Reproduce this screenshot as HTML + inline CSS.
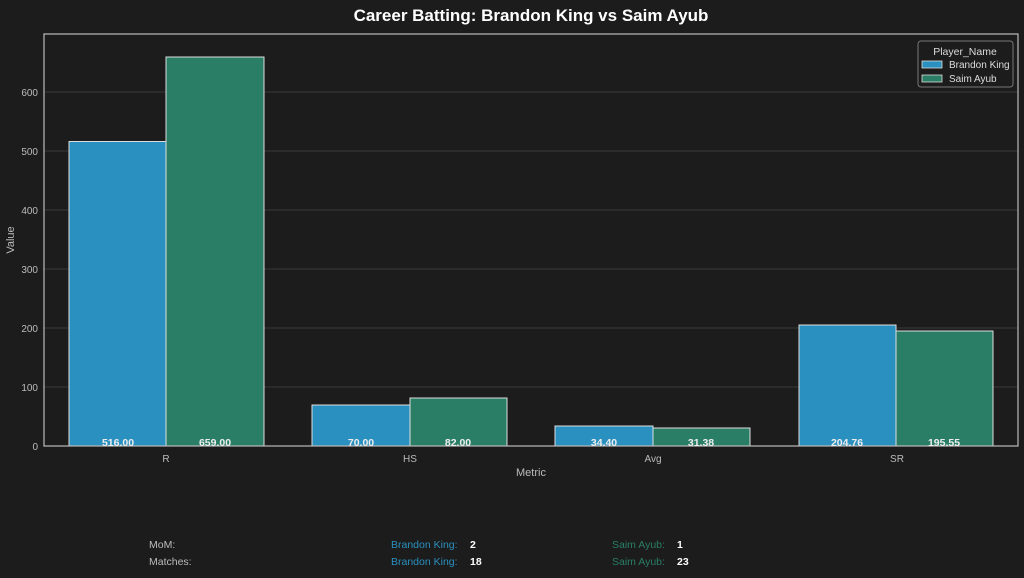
<!DOCTYPE html>
<html><head><meta charset="utf-8"><style>
html,body{margin:0;padding:0;background:#1c1c1c;}
svg text{font-family:"Liberation Sans",sans-serif;}
</style></head><body>
<svg width="1024" height="573" viewBox="0 0 1024 573" xmlns="http://www.w3.org/2000/svg">
<rect width="1024" height="573" fill="#1c1c1c"/>
<text x="531" y="21" fill="#fff" font-size="17" font-weight="bold" text-anchor="middle">Career Batting: Brandon King vs Saim Ayub</text>
<g stroke="#3a3a3a" stroke-width="1">
<line x1="44" y1="387" x2="1018" y2="387"/><line x1="44" y1="328" x2="1018" y2="328"/>
<line x1="44" y1="269" x2="1018" y2="269"/><line x1="44" y1="210" x2="1018" y2="210"/>
<line x1="44" y1="151" x2="1018" y2="151"/><line x1="44" y1="92" x2="1018" y2="92"/>
</g>
<g fill="#bbb" font-size="10" text-anchor="end">
<text x="38" y="450">0</text><text x="38" y="391">100</text><text x="38" y="332">200</text>
<text x="38" y="273">300</text><text x="38" y="214">400</text><text x="38" y="155">500</text><text x="38" y="96">600</text>
</g>
<g stroke="#ddd" stroke-width="1">
<rect x="69" y="141.5" width="97" height="304.5" fill="#2a90bf"/>
<rect x="166" y="57" width="98" height="389" fill="#2a7e66"/>
<rect x="312" y="405" width="98" height="41" fill="#2a90bf"/>
<rect x="410" y="398" width="97" height="48" fill="#2a7e66"/>
<rect x="555" y="426" width="98" height="20" fill="#2a90bf"/>
<rect x="653" y="428" width="97" height="18" fill="#2a7e66"/>
<rect x="799" y="325" width="97" height="121" fill="#2a90bf"/>
<rect x="896" y="331" width="97" height="115" fill="#2a7e66"/>
</g>
<rect x="44" y="34" width="974" height="412" fill="none" stroke="#bbb" stroke-width="1.2"/>
<g fill="#eee" font-size="10.5" font-weight="bold" text-anchor="middle">
<text x="118" y="446">516.00</text><text x="215" y="446">659.00</text>
<text x="361" y="446">70.00</text><text x="458" y="446">82.00</text>
<text x="604" y="446">34.40</text><text x="701" y="446">31.38</text>
<text x="847" y="446">204.76</text><text x="944" y="446">195.55</text>
</g>
<g fill="#bbb" font-size="10" text-anchor="middle">
<text x="166" y="462">R</text><text x="410" y="462">HS</text><text x="653" y="462">Avg</text><text x="897" y="462">SR</text>
<text x="531" y="476" font-size="11">Metric</text>
</g>
<text x="14" y="240" fill="#bbb" font-size="11" text-anchor="middle" transform="rotate(-90 14 240)">Value</text>
<rect x="918" y="41" width="95" height="46" rx="3" fill="#1c1c1c" stroke="#777"/>
<text x="965" y="55" fill="#ddd" font-size="10.5" text-anchor="middle">Player_Name</text>
<rect x="922" y="61" width="20" height="7" fill="#2a90bf" stroke="#ddd" stroke-width="0.8"/>
<text x="949" y="68" fill="#ddd" font-size="10">Brandon King</text>
<rect x="922" y="75" width="20" height="7" fill="#2a7e66" stroke="#ddd" stroke-width="0.8"/>
<text x="949" y="82" fill="#ddd" font-size="10">Saim Ayub</text>
<g font-size="10.5">
<text x="149" y="548" fill="#bbb">MoM:</text><text x="149" y="565" fill="#bbb">Matches:</text>
<text x="391" y="548" fill="#2a90bf">Brandon King:</text><text x="470" y="548" fill="#fff" font-weight="bold">2</text>
<text x="391" y="565" fill="#2a90bf">Brandon King:</text><text x="470" y="565" fill="#fff" font-weight="bold">18</text>
<text x="612" y="548" fill="#2a7e66">Saim Ayub:</text><text x="677" y="548" fill="#fff" font-weight="bold">1</text>
<text x="612" y="565" fill="#2a7e66">Saim Ayub:</text><text x="677" y="565" fill="#fff" font-weight="bold">23</text>
</g>
</svg>
</body></html>
